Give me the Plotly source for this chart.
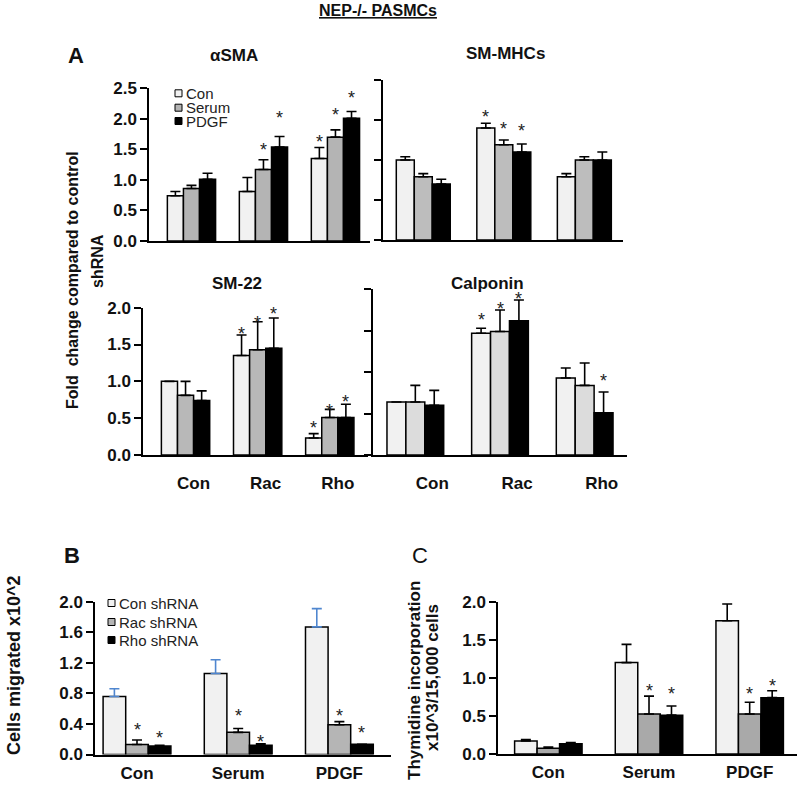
import plotly.graph_objects as go

W, H = 800, 787
FONT = "Liberation Sans, Arial, sans-serif"

# ---------------- DATA ----------------
groups_A = ["Con", "Rac", "Rho"]
groups_BC = ["Con", "Serum", "PDGF"]
series_A = ["Con", "Serum", "PDGF"]
series_B = ["Con shRNA", "Rac shRNA", "Rho shRNA"]

# alpha-SMA
asma_con = [0.74, 0.81, 1.35]
asma_serum = [0.86, 1.17, 1.70]
asma_pdgf = [1.01, 1.54, 2.01]
asma_con_err = [0.07, 0.23, 0.18]
asma_serum_err = [0.05, 0.16, 0.12]
asma_pdgf_err = [0.10, 0.17, 0.11]
asma_con_star = [None, None, 1.70]
asma_serum_star = [None, 1.57, 2.14]
asma_pdgf_star = [None, 2.09, 2.42]

# SM-MHCs
mhc_con = [1.00, 1.40, 0.79]
mhc_serum = [0.79, 1.19, 1.00]
mhc_pdgf = [0.70, 1.10, 1.00]
mhc_con_err = [0.04, 0.06, 0.04]
mhc_serum_err = [0.04, 0.06, 0.04]
mhc_pdgf_err = [0.06, 0.10, 0.10]
mhc_con_star = [None, 1.60, None]
mhc_serum_star = [None, 1.45, None]
mhc_pdgf_star = [None, 1.42, None]

# SM-22
sm22_con = [1.00, 1.35, 0.23]
sm22_serum = [0.81, 1.43, 0.51]
sm22_pdgf = [0.74, 1.45, 0.51]
sm22_con_err = [0.0, 0.28, 0.06]
sm22_serum_err = [0.19, 0.38, 0.11]
sm22_pdgf_err = [0.13, 0.41, 0.18]
sm22_con_star = [None, 1.71, 0.43]
sm22_serum_star = [None, 1.86, 0.67]
sm22_pdgf_star = [None, 1.98, 0.79]

# Calponin
calp_con = [0.64, 1.47, 0.93]
calp_serum = [0.64, 1.49, 0.84]
calp_pdgf = [0.60, 1.62, 0.51]
calp_con_err = [0.0, 0.06, 0.12]
calp_serum_err = [0.20, 0.26, 0.27]
calp_pdgf_err = [0.18, 0.25, 0.25]
calp_con_star = [None, 1.69, None]
calp_serum_star = [None, 1.82, None]
calp_pdgf_star = [None, 1.94, 0.95]

# B: cells migrated x10^2
mig_con = [0.76, 1.06, 1.67]
mig_rac = [0.13, 0.29, 0.39]
mig_rho = [0.11, 0.12, 0.135]
mig_con_err = [0.10, 0.18, 0.24]
mig_rac_err = [0.06, 0.05, 0.04]
mig_rho_err = [0.01, 0.02, 0.0]
mig_con_star = [None, None, None]
mig_rac_star = [0.38, 0.57, 0.57]
mig_rho_star = [0.28, 0.23, 0.35]

# C: thymidine incorporation
thy_con = [0.17, 1.20, 1.75]
thy_rac = [0.075, 0.525, 0.525]
thy_rho = [0.135, 0.51, 0.74]
thy_con_err = [0.02, 0.24, 0.22]
thy_rac_err = [0.015, 0.235, 0.155]
thy_rho_err = [0.015, 0.12, 0.09]
thy_con_star = [None, None, None]
thy_rac_star = [None, 0.89, 0.85]
thy_rho_star = [None, 0.85, 0.96]

# ---------------- STYLE / LAYOUT ----------------
BARGAP = 0.33
C_LIGHT = "#f1f1f1"
C_BLACK = "#000000"


def fx(p):
    return p / W


def fy(p):
    return 1 - p / H


fig = go.Figure()
annotations = []

panels = [
    dict(i=1, xd=(149, 370), yd=(88.3, 241), xr=(-0.59, 2.48), ymax=2.5, dtick=0.5, ylab=True, xlab=False,
         shift=0, cats=groups_A, vals=[asma_con, asma_serum, asma_pdgf],
         errs=[asma_con_err, asma_serum_err, asma_pdgf_err],
         stars=[asma_con_star, asma_serum_star, asma_pdgf_star], colors=[C_LIGHT, "#b4b4b4", C_BLACK]),
    dict(i=2, xd=(383, 623), yd=(80, 240), xr=(-0.50, 2.48), ymax=2.0, dtick=0.5, ylab=False, xlab=False,
         shift=0, cats=groups_A, vals=[mhc_con, mhc_serum, mhc_pdgf],
         errs=[mhc_con_err, mhc_serum_err, mhc_pdgf_err],
         stars=[mhc_con_star, mhc_serum_star, mhc_pdgf_star], colors=[C_LIGHT, "#bdbdbd", C_BLACK]),
    dict(i=3, xd=(143, 368), yd=(307.7, 455), xr=(-0.59, 2.53), ymax=2.0, dtick=0.5, ylab=True, xlab=True,
         shift=8, cats=groups_A, vals=[sm22_con, sm22_serum, sm22_pdgf],
         errs=[sm22_con_err, sm22_serum_err, sm22_pdgf_err],
         stars=[sm22_con_star, sm22_serum_star, sm22_pdgf_star], colors=[C_LIGHT, "#b8b8b8", C_BLACK]),
    dict(i=4, xd=(373, 627), yd=(289.3, 455), xr=(-0.50, 2.50), ymax=2.0, dtick=0.5, ylab=False, xlab=True,
         shift=17, cats=groups_A, vals=[calp_con, calp_serum, calp_pdgf],
         errs=[calp_con_err, calp_serum_err, calp_pdgf_err],
         stars=[calp_con_star, calp_serum_star, calp_pdgf_star], colors=[C_LIGHT, "#dcdcdc", C_BLACK]),
    dict(i=5, xd=(95, 391), yd=(601.7, 754.5), xr=(-0.415, 2.51), ymax=2.0, dtick=0.4, ylab=True, xlab=True,
         shift=0, cats=groups_BC, vals=[mig_con, mig_rac, mig_rho], errs=[mig_con_err, mig_rac_err, mig_rho_err],
         stars=[mig_con_star, mig_rac_star, mig_rho_star], colors=[C_LIGHT, "#b5b5b5", C_BLACK],
         errcolors=["#4f86cf", "#000", "#000"]),
    dict(i=6, xd=(498, 797), yd=(601.7, 754), xr=(-0.50, 2.47), ymax=2.0, dtick=0.5, ylab=True, xlab=True,
         shift=0, cats=groups_BC, vals=[thy_con, thy_rac, thy_rho], errs=[thy_con_err, thy_rac_err, thy_rho_err],
         stars=[thy_con_star, thy_rac_star, thy_rho_star], colors=[C_LIGHT, "#a9a9a9", C_BLACK]),
]

layout_axes = {}
w_bar = (1 - BARGAP) / 3
for p in panels:
    i = p["i"]
    sx = "" if i == 1 else str(i)
    xref, yref = "x" + sx, "y" + sx
    xpos = list(range(len(p["cats"])))
    errcolors = p.get("errcolors", ["#000", "#000", "#000"])
    for k in range(3):
        fig.add_trace(go.Bar(
            x=xpos, y=p["vals"][k], xaxis=xref, yaxis=yref,
            marker=dict(color=p["colors"][k], line=dict(color="black", width=1.5)),
            error_y=dict(type="data", symmetric=False, array=p["errs"][k],
                         arrayminus=[0] * len(xpos), color=errcolors[k], thickness=1.6, width=5),
            showlegend=False, hoverinfo="skip"))
    # significance stars, placed in data coordinates above the bars
    for k in range(3):
        off = (k - 1) * w_bar
        for g, v in zip(xpos, p["stars"][k]):
            if v is None:
                continue
            annotations.append(dict(
                x=g + off, y=v, xref=xref, yref=yref, text="*", showarrow=False,
                yshift=-5, font=dict(family=FONT, size=18, color="#222")))
    layout_axes["xaxis" + sx] = dict(
        domain=[fx(p["xd"][0]), fx(p["xd"][1])], range=list(p["xr"]), anchor=yref, automargin=False,
        showline=True, linecolor="black", linewidth=1.5, ticks="", showgrid=False, zeroline=False,
        tickmode="array", tickvals=xpos, ticktext=p["cats"], showticklabels=p["xlab"],
        ticklabelstandoff=(12 if i in (3, 4) else 2), ticklabelshift=p["shift"],
        tickfont=dict(family=FONT, size=17, color="#111", weight="bold"), fixedrange=True)
    layout_axes["yaxis" + sx] = dict(
        domain=[fy(p["yd"][1]), fy(p["yd"][0])], range=[0, p["ymax"]], anchor=xref, automargin=False,
        showline=True, linecolor="black", linewidth=1.5, ticks="outside", ticklen=7, tickwidth=1.5,
        tickcolor="black", tick0=0, dtick=p["dtick"], tickformat=".1f", showgrid=False, zeroline=False,
        showticklabels=p["ylab"], tickfont=dict(family=FONT, size=17, color="#111", weight="bold"),
        fixedrange=True)


def txt(x, y, s, size=17, bold=True, angle=0, xanchor="center", color="#111"):
    annotations.append(dict(
        x=fx(x), y=fy(y), xref="paper", yref="paper", text=s, showarrow=False,
        xanchor=xanchor, yanchor="middle", textangle=angle,
        font=dict(family=FONT, size=size, color=color, weight="bold" if bold else "normal")))


txt(378, 10, "<u>NEP-/- PASMCs</u>", size=16)
txt(76, 55, "A", size=22)
txt(72, 555, "B", size=22)
txt(420, 555, "C", size=22, bold=False)
# panel titles
txt(234, 55, "αSMA")
txt(505, 53, "SM-MHCs")
txt(237, 283, "SM-22")
txt(487, 283, "Calponin")
# axis titles
txt(73, 280, "Fold  change compared to control", size=16, angle=-90)
txt(97, 261, "shRNA", size=16, angle=-90)
txt(14, 665, "Cells migrated x10^2", size=18, angle=-90)
txt(414, 680, "Thymidine incorporation", size=17, angle=-90)
txt(432, 678, "x10^3/15,000 cells", size=17, angle=-90)

# legends (drawn manually)
shapes = []
leg_A_rows = [93.3, 107.7, 121]
leg_A_colors = [C_LIGHT, "#b4b4b4", C_BLACK]
for name, yy, col in zip(series_A, leg_A_rows, leg_A_colors):
    shapes.append(dict(type="rect", xref="paper", yref="paper", x0=fx(175), x1=fx(182),
                       y0=fy(yy + 3.5), y1=fy(yy - 3.5), fillcolor=col, line=dict(color="black", width=1)))
    txt(184, yy, name, size=15, bold=False, xanchor="left", color="#222")

leg_B_rows = [603, 622, 640]
leg_B_colors = [C_LIGHT, "#b5b5b5", C_BLACK]
for name, yy, col in zip(series_B, leg_B_rows, leg_B_colors):
    shapes.append(dict(type="rect", xref="paper", yref="paper", x0=fx(108), x1=fx(115),
                       y0=fy(yy + 3.5), y1=fy(yy - 3.5), fillcolor=col, line=dict(color="black", width=1)))
    txt(117, yy, name, size=15, bold=False, xanchor="left", color="#222")

fig.update_layout(
    width=W, height=H, margin=dict(l=0, r=0, t=0, b=0, pad=0, autoexpand=False),
    paper_bgcolor="white", plot_bgcolor="rgba(0,0,0,0)",
    barmode="group", bargap=BARGAP, bargroupgap=0,
    showlegend=False, annotations=annotations, shapes=shapes,
    font=dict(family=FONT),
    **layout_axes)

fig.write_html(
    "out.html",
    config={"displayModeBar": False},
    post_script="document.body.style.margin='0px';document.documentElement.style.overflow='hidden';")
